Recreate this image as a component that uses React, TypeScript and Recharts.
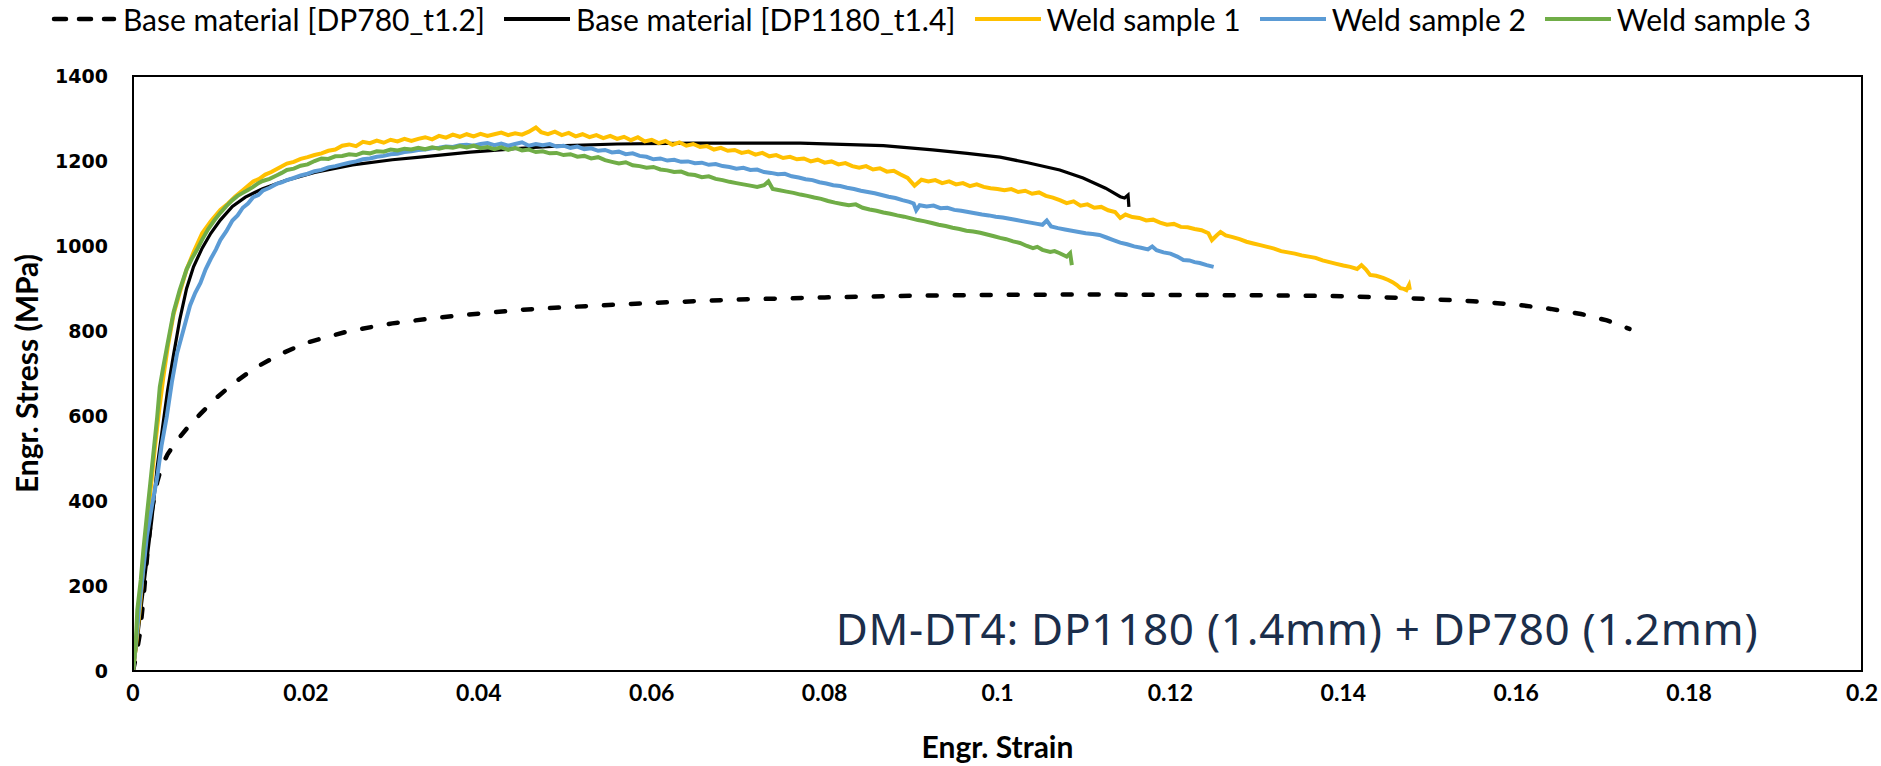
import React from "react";
import { LineChart, Line, XAxis, YAxis, ReferenceArea } from "recharts";

type Pt = [number, number];

// Engr. strain (-) vs engr. stress (MPa)
const dp780: Pt[] = [
  [0, 0], [0.0004, 40], [0.0008, 89], [0.0012, 170], [0.0017, 285], [0.0022, 380], [0.0028, 445],
  [0.0033, 480], [0.004, 510], [0.005, 540], [0.0062, 570], [0.0078, 605], [0.0095, 640],
  [0.0115, 675], [0.014, 712], [0.017, 745], [0.02, 772], [0.025, 800], [0.03, 818], [0.035, 831],
  [0.04, 841], [0.045, 850], [0.05, 856], [0.055, 861], [0.06, 866], [0.07, 874], [0.08, 879],
  [0.09, 883], [0.1, 885], [0.11, 886], [0.12, 885], [0.13, 884], [0.14, 882], [0.145, 879],
  [0.15, 875], [0.155, 870], [0.16, 862], [0.164, 852], [0.1675, 840], [0.1705, 825], [0.1731, 805],
];

const dp1180: Pt[] = [
  [0, 0], [0.0005, 75], [0.001, 160], [0.0016, 260], [0.0022, 360], [0.0028, 480], [0.0034, 570],
  [0.004, 660], [0.0047, 745], [0.0054, 826], [0.0062, 900], [0.007, 951], [0.008, 995],
  [0.009, 1030], [0.0101, 1061], [0.0115, 1093], [0.013, 1115], [0.015, 1135], [0.0178, 1155],
  [0.021, 1173], [0.0254, 1191], [0.03, 1203], [0.0332, 1209], [0.039, 1221], [0.0448, 1230],
  [0.05, 1236], [0.056, 1240], [0.065, 1242], [0.0772, 1242], [0.0868, 1236], [0.0925, 1226],
  [0.0965, 1218], [0.1003, 1209], [0.1035, 1196], [0.1072, 1179], [0.1099, 1160], [0.1125, 1136],
  [0.1142, 1116], [0.1147, 1113], [0.1151, 1120], [0.1152, 1092],
];

const weld1: Pt[] = [
  [0, 0], [0.0004, 70], [0.0008, 150], [0.0012, 250], [0.0016, 340], [0.002, 420], [0.0025, 520],
  [0.003, 610], [0.0035, 690], [0.004, 760], [0.0047, 840], [0.0054, 890], [0.0062, 945],
  [0.007, 985], [0.008, 1030], [0.009, 1058], [0.0101, 1085], [0.011, 1100], [0.0118, 1116],
  [0.0128, 1133], [0.0139, 1152], [0.0146, 1158], [0.0153, 1168], [0.016, 1174], [0.0168, 1183],
  [0.0178, 1194], [0.0186, 1198], [0.0194, 1205], [0.0202, 1209], [0.021, 1214], [0.0218, 1218],
  [0.0226, 1224], [0.0234, 1227], [0.0242, 1236], [0.025, 1239], [0.0258, 1235], [0.0266, 1245],
  [0.0274, 1242], [0.0282, 1248], [0.029, 1243], [0.0298, 1250], [0.0306, 1246], [0.0314, 1252],
  [0.0322, 1247], [0.033, 1252], [0.0338, 1256], [0.0346, 1251], [0.0354, 1259], [0.0362, 1255],
  [0.037, 1262], [0.0378, 1257], [0.0386, 1263], [0.0394, 1258], [0.0402, 1264], [0.041, 1259],
  [0.0418, 1263], [0.0426, 1267], [0.0434, 1261], [0.0442, 1265], [0.045, 1262], [0.0458, 1269],
  [0.0466, 1279], [0.0472, 1268], [0.048, 1263], [0.0488, 1269], [0.0496, 1261], [0.0504, 1266],
  [0.0512, 1258], [0.052, 1263], [0.0528, 1256], [0.0536, 1261], [0.0544, 1254], [0.0552, 1259],
  [0.056, 1252], [0.0568, 1257], [0.0576, 1249], [0.0584, 1256], [0.0592, 1246], [0.06, 1250],
  [0.0608, 1242], [0.0616, 1247], [0.0624, 1238], [0.0632, 1244], [0.064, 1236], [0.0648, 1240],
  [0.0656, 1233], [0.0664, 1235], [0.0672, 1227], [0.068, 1231], [0.0688, 1224], [0.0696, 1226],
  [0.0704, 1219], [0.0712, 1222], [0.072, 1215], [0.0728, 1219], [0.0736, 1211], [0.0744, 1214],
  [0.0752, 1207], [0.076, 1210], [0.0768, 1204], [0.0776, 1206], [0.0784, 1199], [0.0792, 1203],
  [0.08, 1196], [0.0808, 1199], [0.0816, 1192], [0.0824, 1195], [0.0832, 1188], [0.084, 1184],
  [0.0848, 1188], [0.0856, 1180], [0.0864, 1183], [0.0872, 1175], [0.088, 1177], [0.0888, 1168],
  [0.0896, 1160], [0.0904, 1142], [0.0912, 1156], [0.092, 1152], [0.0928, 1155], [0.0936, 1148],
  [0.0944, 1152], [0.0952, 1145], [0.096, 1148], [0.0968, 1141], [0.0976, 1145], [0.0984, 1139],
  [0.0992, 1136], [0.1, 1134], [0.1008, 1131], [0.1016, 1134], [0.1024, 1127], [0.1032, 1130],
  [0.104, 1123], [0.1048, 1126], [0.1056, 1118], [0.1064, 1114], [0.1072, 1108], [0.108, 1101],
  [0.1088, 1105], [0.1096, 1095], [0.1104, 1098], [0.1112, 1090], [0.112, 1092], [0.1128, 1084],
  [0.1136, 1080], [0.1142, 1066], [0.1148, 1074], [0.1156, 1068], [0.1164, 1066], [0.1172, 1060],
  [0.118, 1062], [0.1188, 1055], [0.1196, 1050], [0.1204, 1052], [0.1212, 1045], [0.122, 1044],
  [0.1228, 1040], [0.1236, 1037], [0.1244, 1030], [0.1248, 1014], [0.1254, 1026], [0.1258, 1033],
  [0.1264, 1025], [0.1272, 1021], [0.128, 1016], [0.1288, 1010], [0.1296, 1006], [0.1304, 1002],
  [0.1312, 998], [0.132, 994], [0.1328, 988], [0.1336, 985], [0.1344, 982], [0.1352, 978],
  [0.136, 975], [0.1368, 972], [0.1376, 966], [0.1384, 962], [0.1392, 958], [0.14, 954],
  [0.1408, 951], [0.1416, 946], [0.1421, 955], [0.1426, 945], [0.1431, 932], [0.1438, 930],
  [0.1446, 925], [0.1452, 920], [0.1457, 915], [0.1462, 908], [0.1466, 901], [0.147, 899],
  [0.1473, 896], [0.1476, 908], [0.1477, 897],
];

const weld2: Pt[] = [
  [0, 0], [0.0004, 80], [0.0008, 167], [0.0012, 240], [0.0016, 316], [0.0022, 390], [0.0028, 456],
  [0.0033, 530], [0.0039, 598], [0.0045, 680], [0.0051, 748], [0.0058, 800], [0.0066, 860],
  [0.0072, 890], [0.0078, 913], [0.0084, 945], [0.009, 970], [0.0096, 992], [0.0101, 1014],
  [0.0108, 1035], [0.0115, 1060], [0.0121, 1072], [0.0127, 1090], [0.0133, 1100], [0.0139, 1115],
  [0.0145, 1120], [0.015, 1130], [0.0158, 1137], [0.0166, 1146], [0.0172, 1150], [0.0178, 1155],
  [0.0186, 1160], [0.0194, 1166], [0.0202, 1170], [0.021, 1176], [0.0218, 1179], [0.0226, 1185],
  [0.0234, 1188], [0.0242, 1192], [0.025, 1196], [0.0258, 1199], [0.0266, 1204], [0.0274, 1206],
  [0.0282, 1210], [0.029, 1212], [0.0298, 1216], [0.0306, 1217], [0.0314, 1221], [0.0322, 1223],
  [0.033, 1226], [0.0338, 1227], [0.0346, 1230], [0.0354, 1231], [0.0362, 1234], [0.037, 1233],
  [0.0378, 1237], [0.0386, 1238], [0.0394, 1236], [0.0402, 1240], [0.041, 1242], [0.0418, 1237],
  [0.0426, 1241], [0.0434, 1236], [0.0442, 1240], [0.045, 1244], [0.0458, 1236], [0.0466, 1240],
  [0.0474, 1237], [0.0482, 1240], [0.049, 1234], [0.0498, 1236], [0.0506, 1231], [0.0514, 1234],
  [0.0522, 1228], [0.053, 1230], [0.0538, 1224], [0.0546, 1226], [0.0554, 1220], [0.0562, 1222],
  [0.057, 1216], [0.0578, 1218], [0.0586, 1212], [0.0594, 1210], [0.0602, 1204], [0.061, 1206],
  [0.0618, 1201], [0.0626, 1203], [0.0634, 1198], [0.0642, 1199], [0.065, 1195], [0.0658, 1196],
  [0.0666, 1191], [0.0674, 1193], [0.0682, 1188], [0.069, 1186], [0.0698, 1182], [0.0706, 1184],
  [0.0714, 1179], [0.0722, 1180], [0.073, 1174], [0.0738, 1172], [0.0746, 1169], [0.0754, 1170],
  [0.0762, 1164], [0.077, 1161], [0.0778, 1157], [0.0786, 1155], [0.0794, 1150], [0.0802, 1147],
  [0.081, 1143], [0.0818, 1141], [0.0826, 1137], [0.0834, 1134], [0.0842, 1130], [0.085, 1127],
  [0.0858, 1124], [0.0866, 1120], [0.0874, 1116], [0.0882, 1113], [0.089, 1108], [0.0898, 1104],
  [0.0903, 1100], [0.0906, 1084], [0.091, 1096], [0.0918, 1093], [0.0926, 1095], [0.0934, 1089],
  [0.0942, 1090], [0.095, 1085], [0.0958, 1083], [0.0966, 1080], [0.0974, 1077], [0.0982, 1074],
  [0.099, 1072], [0.0998, 1069], [0.1006, 1067], [0.1014, 1064], [0.1022, 1061], [0.103, 1058],
  [0.1038, 1055], [0.1046, 1052], [0.1052, 1050], [0.1057, 1060], [0.1062, 1046], [0.107, 1042],
  [0.1078, 1039], [0.1086, 1036], [0.1094, 1033], [0.1102, 1030], [0.111, 1028], [0.1118, 1026],
  [0.1126, 1020], [0.1134, 1014], [0.1142, 1008], [0.115, 1004], [0.1158, 999], [0.1166, 996],
  [0.1174, 992], [0.1179, 999], [0.1184, 990], [0.1192, 985], [0.12, 982], [0.1208, 975],
  [0.1215, 967], [0.1222, 966], [0.1228, 962], [0.1234, 960], [0.1242, 955], [0.125, 951],
];

const weld3: Pt[] = [
  [0, 0], [0.0003, 60], [0.0005, 144], [0.0009, 215], [0.0012, 285], [0.0016, 365], [0.002, 442],
  [0.0024, 520], [0.0028, 598], [0.0031, 668], [0.0035, 715], [0.004, 770], [0.0047, 845],
  [0.0054, 896], [0.0062, 945], [0.0068, 970], [0.0074, 991], [0.008, 1015], [0.0087, 1040],
  [0.0094, 1060], [0.0101, 1078], [0.0108, 1094], [0.0115, 1108], [0.0121, 1118], [0.0127, 1125],
  [0.0133, 1132], [0.0139, 1139], [0.0145, 1148], [0.015, 1153], [0.0158, 1158], [0.0166, 1166],
  [0.0172, 1172], [0.0178, 1179], [0.0186, 1182], [0.0194, 1189], [0.0202, 1192], [0.021, 1200],
  [0.0218, 1206], [0.0226, 1205], [0.0234, 1211], [0.0242, 1212], [0.025, 1216], [0.0258, 1214],
  [0.0266, 1220], [0.0274, 1218], [0.0282, 1223], [0.029, 1222], [0.0298, 1227], [0.0306, 1225],
  [0.0314, 1229], [0.0322, 1227], [0.033, 1231], [0.0338, 1228], [0.0346, 1232], [0.0354, 1229],
  [0.0362, 1233], [0.037, 1231], [0.0378, 1235], [0.0386, 1232], [0.0394, 1236], [0.0402, 1230],
  [0.041, 1233], [0.0418, 1228], [0.0426, 1232], [0.0434, 1226], [0.0442, 1231], [0.045, 1225],
  [0.0458, 1227], [0.0466, 1221], [0.0474, 1223], [0.0482, 1218], [0.049, 1219], [0.0498, 1214],
  [0.0506, 1216], [0.0514, 1210], [0.0522, 1212], [0.053, 1206], [0.0538, 1209], [0.0546, 1202],
  [0.0554, 1198], [0.0562, 1194], [0.057, 1197], [0.0578, 1190], [0.0586, 1188], [0.0594, 1184],
  [0.0602, 1186], [0.061, 1180], [0.0618, 1178], [0.0626, 1174], [0.0634, 1175], [0.0642, 1169],
  [0.065, 1167], [0.0658, 1162], [0.0666, 1164], [0.0674, 1158], [0.0682, 1155], [0.069, 1151],
  [0.0698, 1148], [0.0706, 1145], [0.0714, 1142], [0.0722, 1139], [0.073, 1143], [0.0735, 1152],
  [0.074, 1134], [0.0748, 1131], [0.0756, 1128], [0.0764, 1125], [0.0772, 1121], [0.078, 1118],
  [0.0788, 1114], [0.0796, 1111], [0.0804, 1106], [0.0812, 1102], [0.082, 1099], [0.0828, 1096],
  [0.0836, 1098], [0.0844, 1090], [0.0852, 1086], [0.086, 1083], [0.0868, 1079], [0.0876, 1076],
  [0.0884, 1072], [0.0892, 1069], [0.09, 1065], [0.0908, 1061], [0.0916, 1058], [0.0924, 1054],
  [0.0932, 1050], [0.094, 1047], [0.0948, 1043], [0.0956, 1040], [0.0964, 1036], [0.0972, 1034],
  [0.098, 1031], [0.0988, 1027], [0.0996, 1023], [0.1003, 1019], [0.101, 1016], [0.1018, 1011],
  [0.1026, 1007], [0.1034, 1000], [0.1041, 995], [0.1046, 998], [0.1052, 991], [0.1061, 986],
  [0.1066, 988], [0.1072, 983], [0.1078, 977], [0.108, 975], [0.1084, 983], [0.1086, 955],
];

const xTicks = [0, 0.02, 0.04, 0.06, 0.08, 0.1, 0.12, 0.14, 0.16, 0.18, 0.2];
const yTicks = [0, 200, 400, 600, 800, 1000, 1200, 1400];

const seriesNames = [
  "Base material [DP780_t1.2]",
  "Base material [DP1180_t1.4]",
  "Weld sample 1",
  "Weld sample 2",
  "Weld sample 3",
];
const seriesColors = ["#000000", "#000000", "#FFC000", "#5B9BD5", "#70AD47"];

const toRows = (pts: Pt[]) => pts.map(([x, y]) => ({ x, y }));
const fmtX = (v: number) => String(parseFloat(v.toFixed(2)));

const W = 1881;
const H = 766;

const YTitle = (props: any) => {
  const vb = props.viewBox;
  const cx = vb.x + 26;
  const cy = vb.y + vb.height / 2;
  return (
    <text
      x={cx}
      y={cy}
      transform={`rotate(-90 ${cx} ${cy})`}
      textAnchor="middle"
      dominantBaseline="central"
      fontFamily="Lato, sans-serif"
      fontWeight={700}
      fontSize={30}
      fill="#000"
    >
      Engr. Stress (MPa)
    </text>
  );
};

const XTitle = (props: any) => {
  const vb = props.viewBox;
  return (
    <text
      x={vb.x + vb.width / 2}
      y={vb.y + 75}
      textAnchor="middle"
      dominantBaseline="central"
      fontFamily="Lato, sans-serif"
      fontWeight={700}
      fontSize={30}
      fill="#000"
    >
      Engr. Strain
    </text>
  );
};

const LegendRow = () => (
  <div
    style={{
      position: "absolute",
      top: 1,
      left: -3,
      width: W,
      display: "flex",
      justifyContent: "center",
      alignItems: "center",
      fontFamily: "Lato, sans-serif",
      fontSize: 30,
      color: "#000",
      whiteSpace: "nowrap",
    }}
  >
    {seriesNames.map((name, i) => (
      <span key={name} style={{ display: "flex", alignItems: "center", marginRight: 16 }}>
        <svg width={72} height={10} style={{ marginRight: 3 }}>
          <line
            x1={i === 0 ? 6 : 3}
            y1={5}
            x2={i === 0 ? 66 : 69}
            y2={5}
            stroke={seriesColors[i]}
            strokeWidth={i === 0 ? 4.5 : 4}
            strokeDasharray={i === 0 ? "12 13" : undefined}
            strokeLinecap={i === 0 ? "round" : "butt"}
          />
        </svg>
        <span>{name}</span>
      </span>
    ))}
  </div>
);

export default function App() {
  return (
    <div style={{ position: "absolute", left: 0, top: 0, width: W, height: H, background: "#fff" }}>
      <LegendRow />
      <LineChart width={W} height={H} margin={{ top: 76, right: 19, bottom: 0, left: 0 }}>
        <ReferenceArea
          x1={0}
          x2={0.2}
          y1={0}
          y2={1400}
          fill="none"
          stroke="#000"
          strokeWidth={2}
          ifOverflow="visible"
        />
        <XAxis
          dataKey="x"
          type="number"
          domain={[0, 0.2]}
          ticks={xTicks}
          tickFormatter={fmtX}
          allowDataOverflow
          height={95}
          axisLine={{ stroke: "#000", strokeWidth: 2 }}
          tickLine={false}
          tickSize={6}
          tickMargin={8}
          tick={{ fontFamily: "Lato, sans-serif", fontWeight: 700, fontSize: 23, fill: "#000" }}
          label={{ content: XTitle }}
        />
        <YAxis
          type="number"
          domain={[0, 1400]}
          ticks={yTicks}
          allowDataOverflow
          width={133}
          axisLine={{ stroke: "#000", strokeWidth: 2 }}
          tickLine={false}
          tickSize={6}
          tickMargin={19}
          tick={{ fontFamily: "DejaVu Sans, sans-serif", fontWeight: 700, fontSize: 19, fill: "#000" }}
          label={{ content: YTitle }}
        />
        <Line
          data={toRows(dp780)}
          dataKey="y"
          name={seriesNames[0]}
          stroke="#000"
          strokeWidth={4.5}
          strokeDasharray="9 18"
          strokeLinecap="round"
          dot={false}
          activeDot={false}
          isAnimationActive={false}
        />
        <Line
          data={toRows(dp1180)}
          dataKey="y"
          name={seriesNames[1]}
          stroke="#000"
          strokeWidth={3.2}
          dot={false}
          activeDot={false}
          isAnimationActive={false}
        />
        <Line
          data={toRows(weld1)}
          dataKey="y"
          name={seriesNames[2]}
          stroke={seriesColors[2]}
          strokeWidth={4}
          dot={false}
          activeDot={false}
          isAnimationActive={false}
        />
        <Line
          data={toRows(weld2)}
          dataKey="y"
          name={seriesNames[3]}
          stroke={seriesColors[3]}
          strokeWidth={4}
          dot={false}
          activeDot={false}
          isAnimationActive={false}
        />
        <Line
          data={toRows(weld3)}
          dataKey="y"
          name={seriesNames[4]}
          stroke={seriesColors[4]}
          strokeWidth={4}
          dot={false}
          activeDot={false}
          isAnimationActive={false}
        />
      </LineChart>
      <div
        style={{
          position: "absolute",
          left: 1297,
          top: 604,
          transform: "translateX(-50%)",
          fontFamily: "'Noto Sans', sans-serif",
          fontSize: 44,
          letterSpacing: 0.7,
          lineHeight: "48px",
          color: "#1B2E4B",
          whiteSpace: "nowrap",
        }}
      >
        DM-DT4: DP1180 (1.4mm) + DP780 (1.2mm)
      </div>
    </div>
  );
}
